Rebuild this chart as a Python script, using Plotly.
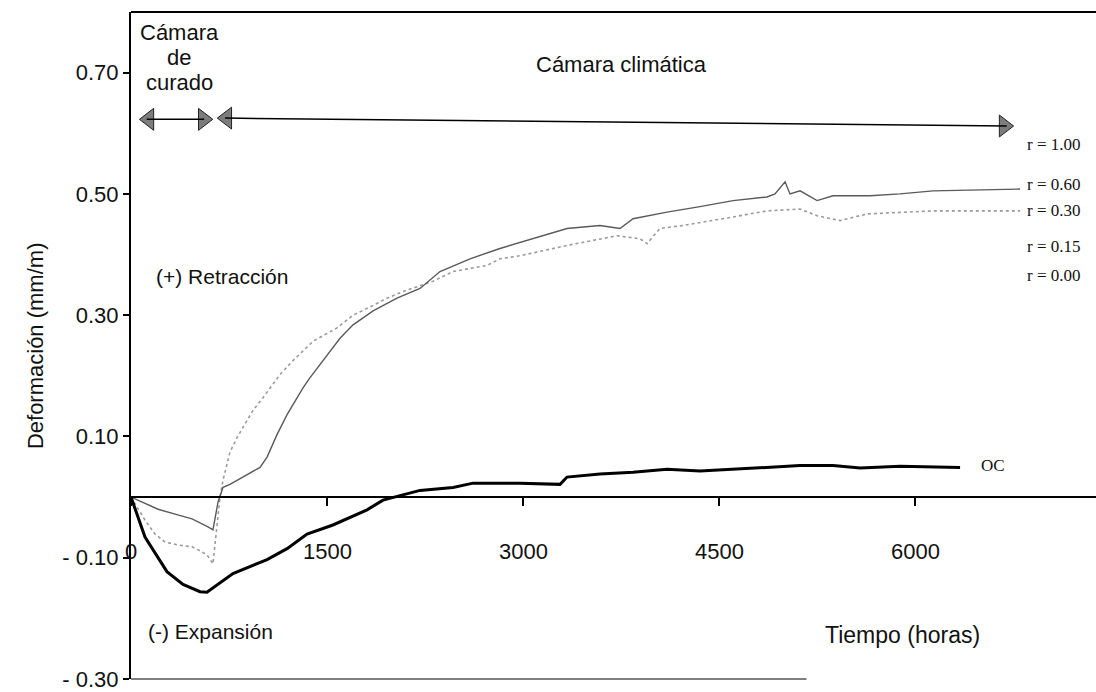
import plotly.graph_objects as go

# ---------------- data (hours, mm/m) ----------------
oc_t = [0, 107, 275, 398, 528, 581, 780, 1041, 1194, 1347, 1545, 1806, 1928,
        2211, 2464, 2617, 2976, 3282, 3336, 3588, 3841, 4101, 4353, 4606,
        4866, 5119, 5371, 5578, 5884, 6343]
oc_v = [0.0, -0.066, -0.123, -0.144, -0.156, -0.157, -0.126, -0.103, -0.085,
        -0.061, -0.046, -0.021, -0.005, 0.011, 0.016, 0.023, 0.023, 0.021,
        0.033, 0.038, 0.041, 0.046, 0.043, 0.046, 0.048, 0.052, 0.052, 0.048,
        0.051, 0.049]

r60_t = [0, 54, 207, 337, 467, 589, 627, 666, 704, 757, 857, 987, 1041, 1117,
         1194, 1316, 1370, 1523, 1599, 1699, 1852, 2035, 2211, 2364, 2594,
         2823, 3076, 3336, 3588, 3741, 3841, 4101, 4353, 4606, 4866, 4927,
         5004, 5042, 5119, 5249, 5371, 5654, 5884, 6136, 6802]
r60_v = [0.0, -0.005, -0.020, -0.028, -0.036, -0.049, -0.054, -0.008, 0.016,
         0.021, 0.033, 0.049, 0.066, 0.103, 0.136, 0.180, 0.197, 0.241, 0.262,
         0.284, 0.307, 0.328, 0.344, 0.372, 0.393, 0.410, 0.426, 0.443, 0.448,
         0.443, 0.459, 0.470, 0.479, 0.489, 0.495, 0.500, 0.520, 0.500, 0.505,
         0.489, 0.497, 0.497, 0.500, 0.505, 0.508]

r30_t = [0, 107, 184, 260, 360, 467, 513, 581, 627, 650, 681, 704, 757, 811,
         933, 1010, 1140, 1239, 1393, 1576, 1699, 1852, 1959, 2081, 2211, 2311,
         2464, 2724, 2823, 2976, 3336, 3718, 3894, 3948, 4047, 4223, 4606, 4866,
         5119, 5249, 5425, 5631, 6136, 6802]
r30_v = [0.0, -0.038, -0.061, -0.074, -0.079, -0.082, -0.087, -0.095, -0.110,
         -0.066, 0.0, 0.028, 0.074, 0.098, 0.143, 0.164, 0.202, 0.225, 0.257,
         0.279, 0.300, 0.316, 0.328, 0.339, 0.348, 0.356, 0.372, 0.382, 0.393,
         0.398, 0.415, 0.431, 0.426, 0.418, 0.443, 0.448, 0.462, 0.472, 0.475,
         0.464, 0.456, 0.467, 0.472, 0.472]

XTICKS = [0, 1500, 3000, 4500, 6000]
YTICKS = [0.70, 0.50, 0.30, 0.10, -0.10, -0.30]
YTICK_TEXT = ["0.70", "0.50", "0.30", "0.10", "- 0.10", "- 0.30"]

R_LABELS = ["r = 1.00", "r = 0.60", "r = 0.30", "r = 0.15", "r = 0.00"]
R_LABEL_Y = [0.582, 0.516, 0.472, 0.413, 0.366]

SANS = "Arial, Liberation Sans, sans-serif"
SERIF = "Times New Roman, Liberation Serif, serif"
INK = "#111111"

fig = go.Figure()

fig.add_trace(go.Scatter(x=r30_t, y=r30_v, mode="lines",
                         line=dict(color="#9a9a9a", width=1.6, dash="dot"),
                         showlegend=False, hoverinfo="skip"))
fig.add_trace(go.Scatter(x=r60_t, y=r60_v, mode="lines",
                         line=dict(color="#5a5a5a", width=1.4),
                         showlegend=False, hoverinfo="skip"))
fig.add_trace(go.Scatter(x=oc_t, y=oc_v, mode="lines",
                         line=dict(color="#000000", width=3),
                         showlegend=False, hoverinfo="skip"))

# arrows (curing period / climatic chamber period)
arrow_y = 0.623
fig.add_shape(type="line", x0=120, x1=560, y0=arrow_y, y1=arrow_y,
              line=dict(color="#000", width=1.5))
fig.add_shape(type="line", x0=720, x1=6700, y0=0.625, y1=0.612,
              line=dict(color="#000", width=1.5))
fig.add_trace(go.Scatter(x=[137, 666 + 67], y=[arrow_y, 0.625], mode="markers",
                         marker=dict(symbol="triangle-left", size=19, color="#7c7c7c",
                                     line=dict(color="#222", width=1)),
                         showlegend=False, hoverinfo="skip"))
fig.add_trace(go.Scatter(x=[553, 6680], y=[arrow_y, 0.612], mode="markers",
                         marker=dict(symbol="triangle-right", size=19, color="#7c7c7c",
                                     line=dict(color="#222", width=1)),
                         showlegend=False, hoverinfo="skip"))

ann = []
for t in XTICKS:
    ann.append(dict(x=t, y=-0.09, xref="x", yref="y", text=str(t), showarrow=False,
                    font=dict(family=SANS, size=22, color=INK)))
for lab, yv in zip(R_LABELS, R_LABEL_Y):
    ann.append(dict(x=6840, y=yv, xref="x", yref="y", text=lab, showarrow=False,
                    xanchor="left", font=dict(family=SERIF, size=17, color=INK)))
ann.append(dict(x=6490, y=0.052, xref="x", yref="y", text="OC", showarrow=False,
                xanchor="left", font=dict(family=SERIF, size=17, color=INK)))
for txt, yv in [("Cámara", 0.767), ("de", 0.725), ("curado", 0.683)]:
    ann.append(dict(x=370, y=yv, xref="x", yref="y", text=txt, showarrow=False,
                    font=dict(family=SANS, size=22, color=INK)))
ann.append(dict(x=3755, y=0.713, xref="x", yref="y", text="Cámara climática",
                showarrow=False, font=dict(family=SANS, size=22, color=INK)))
ann.append(dict(x=700, y=0.364, xref="x", yref="y", text="(+) Retracción",
                showarrow=False, font=dict(family=SANS, size=21, color=INK)))
ann.append(dict(x=610, y=-0.222, xref="x", yref="y", text="(-) Expansión",
                showarrow=False, font=dict(family=SANS, size=21, color=INK)))
ann.append(dict(x=5900, y=-0.227, xref="x", yref="y", text="Tiempo (horas)",
                showarrow=False, font=dict(family=SANS, size=23, color=INK)))
ann.append(dict(x=0, y=0.249, xref="paper", yref="y", xshift=-96,
                xanchor="center", yanchor="middle",
                text="Deformación (mm/m)", textangle=-90, showarrow=False,
                font=dict(family=SANS, size=22, color=INK)))

# top and bottom frame lines
fig.add_shape(type="line", xref="paper", yref="paper", x0=0, x1=1, y0=1, y1=1,
              line=dict(color="#000", width=2))
fig.add_shape(type="line", xref="paper", yref="paper", x0=0, x1=0.70, y0=0, y1=0,
              line=dict(color="#555", width=1.5))

fig.update_layout(
    width=1096, height=692,
    margin=dict(l=131, r=0, t=12, b=10),
    paper_bgcolor="white", plot_bgcolor="white",
    annotations=ann,
    xaxis=dict(range=[0, 7383], showgrid=False, zeroline=False,
               showline=True, linecolor="#000", linewidth=2,
               anchor="free", position=0.3 / 1.1,
               tickvals=XTICKS, ticks="outside", ticklen=8, tickwidth=1.5,
               tickcolor="#000", showticklabels=False),
    yaxis=dict(range=[-0.30, 0.80], showgrid=False, zeroline=False,
               showline=True, linecolor="#000", linewidth=2,
               tickvals=YTICKS, ticktext=YTICK_TEXT, ticks="outside",
               ticklen=6, tickwidth=1.5, tickcolor="#000",
               ticklabeloverflow="allow",
               tickfont=dict(family=SANS, size=22, color=INK)),
)

fig.write_html(
    "out.html",
    config={"displayModeBar": False},
    post_script="document.body.style.margin='0';document.body.style.padding='0';"
                "document.body.style.overflow='hidden';",
)
